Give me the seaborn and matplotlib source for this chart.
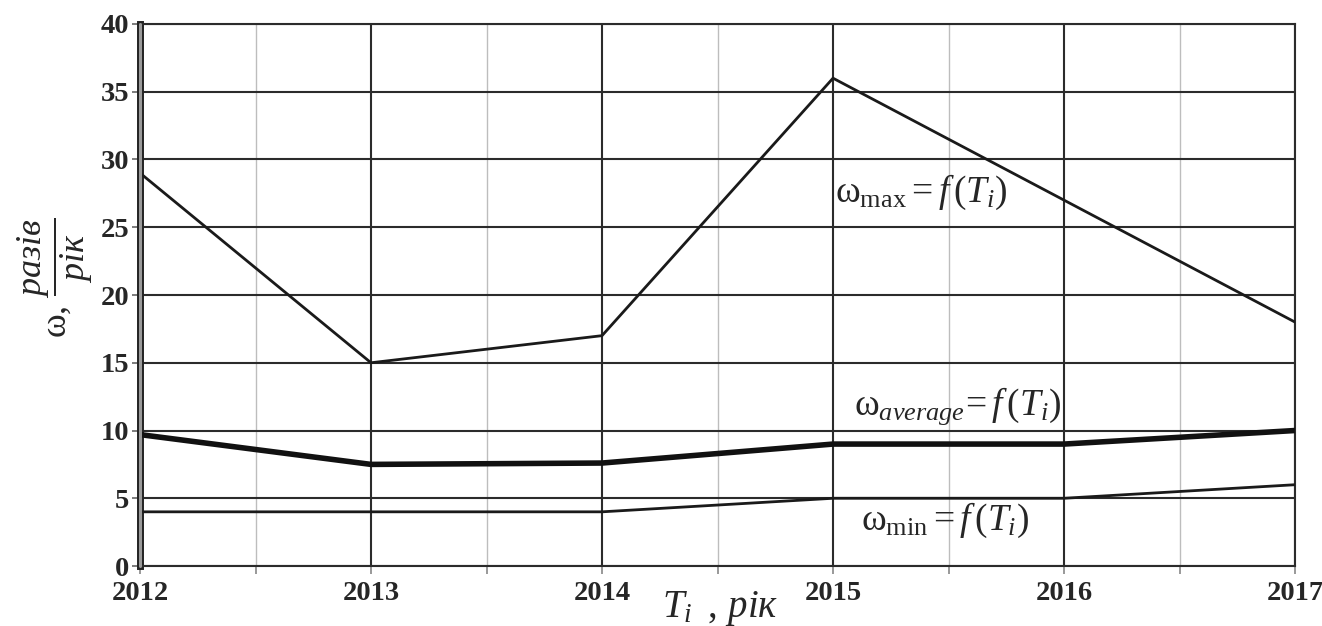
import numpy as np
import pandas as pd
import matplotlib
matplotlib.use("Agg")
import matplotlib.pyplot as plt
import seaborn as sns

years = [2012, 2013, 2014, 2015, 2016, 2017]
omega_max = [29, 15, 17, 36, 27, 18]
omega_avg = [9.7, 7.5, 7.6, 9.0, 9.0, 10.0]
omega_min = [4, 4, 4, 5, 5, 6]
y_ticks = [0, 5, 10, 15, 20, 25, 30, 35, 40]

sns.set_theme(style="white")
plt.rcParams["font.family"] = ["Liberation Serif", "DejaVu Serif"]
plt.rcParams["mathtext.fontset"] = "custom"
plt.rcParams["mathtext.rm"] = "Liberation Serif"
plt.rcParams["mathtext.it"] = "Liberation Serif:italic"
plt.rcParams["mathtext.bf"] = "Liberation Serif:bold"

df = pd.DataFrame({"year": years, "max": omega_max, "avg": omega_avg, "min": omega_min})

fig = plt.figure(figsize=(13.22, 6.26), dpi=100)
ax = fig.add_axes([0.1059, 0.0958, 0.8737, 0.8659])

# grid: dark at whole years / every 5 units, light at half years
for x in np.arange(2012.5, 2017, 1.0):
    ax.axvline(x, color="#bdbdbd", lw=1.0, zorder=1)
for x in years:
    ax.axvline(x, color="#2b2b2b", lw=1.5, zorder=1)
for y in y_ticks:
    ax.axhline(y, color="#2b2b2b", lw=1.5, zorder=1)

sns.lineplot(data=df, x="year", y="max", ax=ax, color="#1a1a1a", lw=2.0, zorder=3)
sns.lineplot(data=df, x="year", y="avg", ax=ax, color="#111111", lw=4.0, zorder=3)
sns.lineplot(data=df, x="year", y="min", ax=ax, color="#1a1a1a", lw=2.0, zorder=3)

ax.set_xlim(2012, 2017)
ax.set_ylim(0, 40)
ax.set_xticks(years)
ax.set_xticks(np.arange(2012.5, 2017, 1.0), minor=True)
ax.set_yticks(y_ticks)
ax.set_xticklabels([str(y) for y in years], fontsize=20.5, fontweight="bold")
ax.set_yticklabels([str(y) for y in y_ticks], fontsize=20.5, fontweight="bold")
ax.tick_params(axis="y", which="major", left=True, length=6, width=1.2, color="#666666", pad=2)
ax.tick_params(axis="x", which="both", bottom=True, length=6, width=1.2, color="#888888", pad=5)
ax.set_xlabel("")
ax.set_ylabel("")

for side in ["top", "right", "bottom"]:
    ax.spines[side].set_visible(True)
    ax.spines[side].set_color("#2b2b2b")
    ax.spines[side].set_linewidth(1.5)
ax.spines["left"].set_color("#222222")
ax.spines["left"].set_linewidth(5)
ax.axvline(2012, color="#9a9a9a", lw=2.2, zorder=5, clip_on=False)

ax.text(2015.01, 27.6, r"$\mathrm{\omega}_{\mathrm{max}} = f\,(T_i)$", fontsize=27,
        ha="left", va="center", zorder=4)
ax.text(2015.09, 11.8, r"$\mathrm{\omega}_{average}\!= f\,(T_i)$", fontsize=27,
        ha="left", va="center", zorder=4)
ax.text(2015.12, 3.4, r"$\mathrm{\omega}_{\mathrm{min}} = f\,(T_i)$", fontsize=27,
        ha="left", va="center", zorder=4)

fig.text(0.545, 0.028, r"$T_i\;\; ,\, \mathit{рік}$", fontsize=28, ha="center", va="center")
fig.text(0.042, 0.556, r"$\mathrm{\omega},\, \dfrac{\mathit{разів}}{\mathit{рік}}$", fontsize=26,
         ha="center", va="center", rotation=90)

fig.savefig("out.png", dpi=100, facecolor="white")
